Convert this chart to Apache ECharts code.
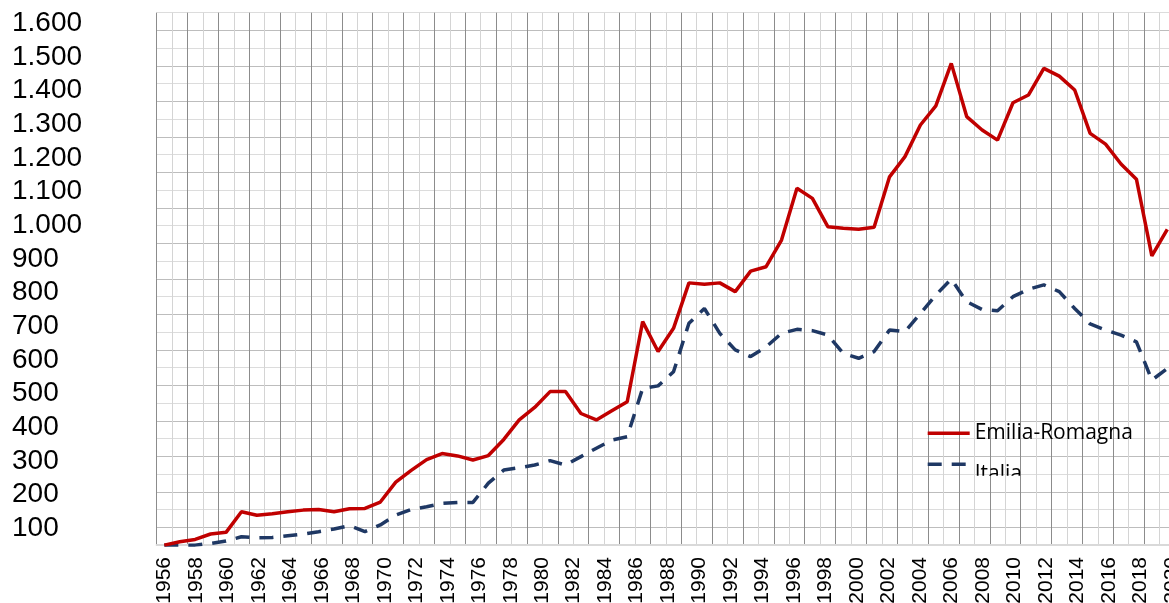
<!DOCTYPE html>
<html>
<head>
<meta charset="utf-8">
<script src="https://cdn.jsdelivr.net/npm/echarts@6/dist/echarts.min.js"></script>
<style>
  html, body { margin: 0; padding: 0; background: #fff; }
  #chart { width: 1169px; height: 603px; }
</style>
</head>
<body>
<div id="chart"></div>
<script>
// anni (categorie)
var years = ['1956','1957','1958','1959','1960','1961','1962','1963','1964','1965',
  '1966','1967','1968','1969','1970','1971','1972','1973','1974','1975',
  '1976','1977','1978','1979','1980','1981','1982','1983','1984','1985',
  '1986','1987','1988','1989','1990','1991','1992','1993','1994','1995',
  '1996','1997','1998','1999','2000','2001','2002','2003','2004','2005',
  '2006','2007','2008','2009','2010','2011','2012','2013','2014','2015',
  '2016','2017','2018','2019','2020','2021'];

var emilia = [50,60,67,83,88,149,139,143,149,154,
  156,149,158,159,178,237,272,304,322,315,
  303,316,364,422,459,506,506,441,422,449,
  476,714,625,694,829,825,829,803,864,877,
  956,1110,1080,996,991,988,994,1144,1204,1298,
  1355,1481,1323,1283,1253,1364,1387,1466,1443,1402,
  1273,1241,1182,1137,909,988];

var italia = [50,50,50,55,62,75,72,73,78,83,
  90,98,108,90,110,139,156,164,174,177,
  177,234,273,280,288,301,288,313,338,362,
  372,516,523,565,709,753,679,630,610,639,
  679,691,687,674,620,605,625,689,684,738,
  793,840,773,750,746,788,810,823,803,753,
  707,689,674,654,540,575];

var yMin = 100, yMax = 1600, yStep = 100;

function fmtNum(v) {
    if (v >= 1000) {
        return Math.floor(v / 1000) + '.' + String(v % 1000).padStart(3, '0');
    }
    return String(v);
}

var hidden = 'rgba(0,0,0,0)';
var noAxis = {
    axisLine: { show: false }, axisTick: { show: false },
    axisLabel: { show: false }, splitLine: { show: false }
};

var chart = echarts.init(document.getElementById('chart'));
var option = {
    animation: false,
    backgroundColor: '#ffffff',
    grid: [
        // area del grafico (quadrettatura + linee)
        { left: 156.6, right: -6, top: 12.7, bottom: 58, outerBoundsMode: 'none' },
        // etichette anni
        { left: 156.6, right: -26.4, top: 12.7, bottom: 58, outerBoundsMode: 'none' },
        // etichette valori
        { left: 156.6, right: -6, top: 23.3, bottom: 74.7, outerBoundsMode: 'none' }
    ],
    legend: {
        type: 'scroll',
        orient: 'vertical',
        left: 926,
        top: 422.7,
        height: 54,
        padding: 0,
        itemWidth: 42,
        itemHeight: 14,
        itemGap: 0,
        pageIconSize: 1,
        pageButtonGap: 0,
        pageButtonItemGap: 0,
        pageIconColor: hidden,
        pageIconInactiveColor: hidden,
        pageTextStyle: { fontSize: 1, color: hidden },
        itemStyle: { opacity: 0 },
        lineStyle: { width: 3.4 },
        // la voce "Italia" scende di mezza riga e viene tagliata dal riquadro
        formatter: function (name) { return name === 'Italia' ? '\n' + name : name; },
        textStyle: { fontFamily: 'Open Sans', fontSize: 21, lineHeight: 20, color: '#000' },
        data: ['Emilia-Romagna', 'Italia']
    },
    xAxis: [
        {
            gridIndex: 0, type: 'category', data: years, boundaryGap: true,
            axisLabel: { show: false }, axisTick: { show: false },
            axisLine: { lineStyle: { color: '#d9d9d9', width: 2 } },
            splitLine: { show: true, interval: 0, lineStyle: { color: ['#8c8c8c', '#d4d4d4'], width: 1 } }
        },
        {
            gridIndex: 1, type: 'category', data: years, boundaryGap: true,
            axisLine: { show: false }, axisTick: { show: false }, splitLine: { show: false },
            axisLabel: {
                interval: 1, rotate: 90, margin: 12,
                fontFamily: 'Liberation Sans', fontSize: 21, color: '#000'
            }
        },
        Object.assign({ gridIndex: 2, type: 'category', data: years }, noAxis)
    ],
    yAxis: [
        Object.assign({ gridIndex: 0, type: 'value', min: 50.4, max: 1631.5 }, noAxis),
        {
            gridIndex: 0, type: 'value', min: 0, max: 30, interval: 1,
            axisLabel: { show: false }, axisTick: { show: false }, axisLine: { show: false },
            splitLine: { show: true, lineStyle: { color: ['#dcdcdc', '#bdbdbd'], width: 1 } }
        },
        Object.assign({ gridIndex: 1, type: 'value', min: 0, max: 1 }, noAxis),
        {
            gridIndex: 2, type: 'value', min: yMin, max: yMax, interval: yStep,
            axisLine: { show: false }, axisTick: { show: false }, splitLine: { show: false },
            axisLabel: {
                align: 'left', margin: 144.6, formatter: fmtNum,
                fontFamily: 'Liberation Sans', fontSize: 28, color: '#000'
            }
        }
    ],
    series: [
        {
            name: 'Emilia-Romagna', type: 'line', xAxisIndex: 0, yAxisIndex: 0,
            data: emilia, symbol: 'none', z: 3,
            itemStyle: { color: '#c00000' },
            lineStyle: { color: '#c00000', width: 3.5 }
        },
        {
            name: 'Italia', type: 'line', xAxisIndex: 0, yAxisIndex: 0,
            data: italia, symbol: 'none', z: 2,
            itemStyle: { color: '#1f3864' },
            lineStyle: { color: '#1f3864', width: 3.5, type: [14, 10] }
        }
    ]
};
chart.setOption(option);
</script>
</body>
</html>
